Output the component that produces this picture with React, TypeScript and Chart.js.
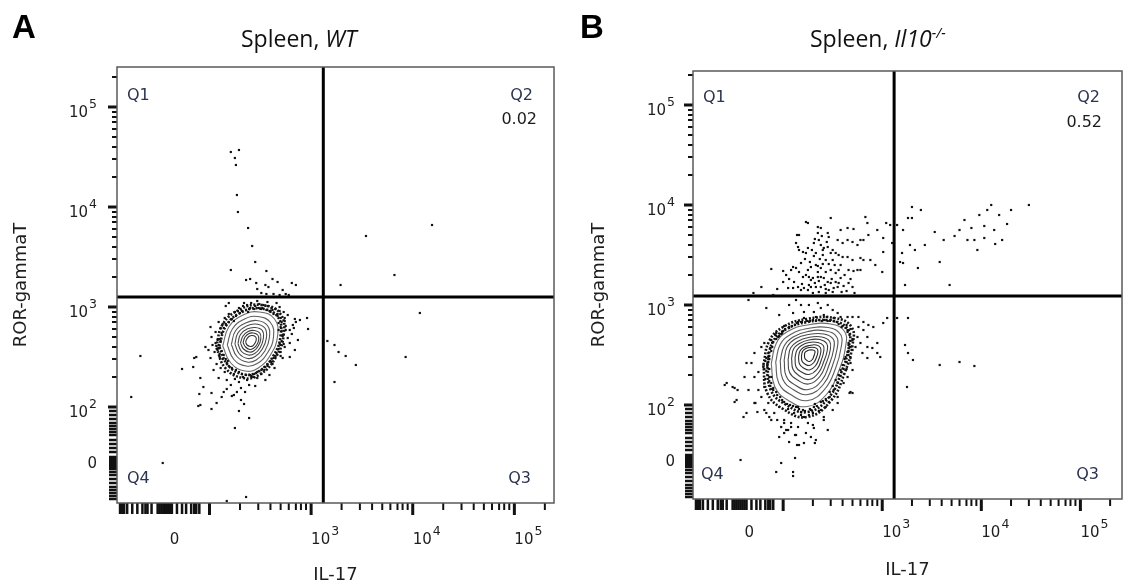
import React, { useEffect, useRef } from "react";
import { Chart, registerables } from "chart.js";

Chart.register(...registerables);
Chart.defaults.font.family = "'DejaVu Sans', sans-serif";

type Pt = [number, number];

// Axis units: biexponential display channels, 100 units per decade
const xTickValues = [161, 300, 400, 500];
const xTickBases = ["0", "10", "10", "10"];
const xTickExps = ["", "3", "4", "5"];
const yTickValues = [149, 200, 300, 400, 500];
const yTickBases = ["0", "10", "10", "10", "10"];
const yTickExps = ["", "2", "3", "4", "5"];
const majorTickValues = [200, 300, 400, 500];
const minorTickValues = [230, 248, 260, 270, 278, 285, 290, 295, 330, 348, 360, 370, 378, 385, 390, 395, 430, 448, 460, 470, 478, 485, 490, 495, 530];
const xLowTickValues = [112, 114, 116, 119, 124, 129, 134, 137, 139, 143, 149, 151, 153, 155, 157, 159, 161, 163, 168, 173, 177, 182, 185, 187, 190];
const yLowTickValues = [108, 111, 114, 117, 120, 124, 128, 132, 135, 138, 140, 142, 144, 146, 148, 150, 155, 159, 163, 167, 172, 175, 178, 181, 184, 188, 192, 196];

// WT panel
const wtGate: Pt = [312, 310];
const wtQ2 = "0.02";
const wtDots: Pt[] = [
  [221, 455], [229, 457], [225, 449], [226, 442], [227, 412], [228, 395], [238, 379], [242, 361], [245, 345], [221, 337], [256, 336],
  [354, 371], [382, 332], [419, 382], [329, 322], [407, 294], [393, 250], [316, 266], [323, 262], [327, 255], [334, 251], [344, 242], [323, 225],
  [132, 251], [123, 210], [154, 144], [225, 179], [217, 106], [236, 110], [189, 201], [202, 198], [190, 213], [194, 220], [229, 196], [234, 203], [239, 189],
  [236, 327], [240, 328], [246, 324], [255, 322], [258, 320], [262, 328], [267, 325], [281, 324], [285, 322], [251, 314], [256, 313], [263, 313], [269, 312], [275, 313], [278, 312], [247, 318], [272, 317],
  [219, 304], [216, 301], [234, 304], [247, 306], [257, 305], [266, 304], [269, 300], [284, 288], [289, 287], [296, 289], [282, 282], [297, 278], [287, 267], [284, 257], [279, 250], [272, 249],
  [201, 280], [196, 260], [187, 250], [185, 249], [173, 238], [184, 240], [191, 229], [202, 214], [212, 210], [222, 211], [231, 207], [191, 202], [207, 204],
  [225, 295], [229, 299], [233, 301], [237, 302], [241, 304], [245, 301], [249, 303], [253, 302], [257, 301], [261, 299], [265, 298], [269, 296], [273, 295], [251, 298], [259, 296], [267, 293], [239, 298], [232, 296], [277, 292], [274, 289],
  [271, 285], [275, 281], [279, 277], [272, 271], [277, 269], [281, 273], [269, 263], [274, 260], [270, 255], [265, 251], [279, 264], [283, 279], [268, 277], [285, 285],
  [261, 245], [257, 241], [254, 237], [264, 239], [251, 233], [259, 232], [247, 229], [255, 227],
  [241, 231], [237, 227], [233, 230], [229, 225], [225, 228], [239, 222], [245, 221], [231, 219], [221, 222], [235, 215], [227, 215], [217, 218], [224, 212], [214, 215],
  [215, 235], [211, 239], [207, 243], [210, 250], [205, 255], [209, 259], [203, 262], [208, 267], [202, 270], [206, 275], [211, 279], [209, 285], [215, 289], [219, 293], [213, 283], [201, 249], [204, 237], [209, 229], [217, 227], [199, 257],
  [209, 262], [210, 268], [212, 274], [214, 279], [208, 257], [211, 266], [216, 283], [206, 264],
  [219, 285], [222, 288], [226, 291], [230, 294], [224, 286], [228, 296],
  [236, 297], [240, 299], [244, 298], [248, 299], [252, 299], [238, 295],
  [256, 297], [260, 295], [263, 293], [267, 291], [262, 297], [270, 289],
  [268, 284], [270, 280], [271, 276], [272, 272], [274, 286], [275, 277],
  [271, 266], [270, 262], [268, 258], [266, 254], [273, 263], [270, 251],
  [263, 249], [260, 246], [257, 243], [254, 240], [251, 237], [262, 243],
  [247, 235], [244, 233], [240, 232], [236, 232], [232, 233], [243, 230],
  [229, 235], [226, 237], [222, 239], [219, 241], [217, 244], [224, 233],
  [216, 248], [214, 252], [212, 256], [218, 246], [210, 253], [213, 248],
];
// outermost (lowest-density) levels, drawn as dense dark bands
const wtBands: Pt[][] = [
  [[209.5, 260.5], [216.5, 281.5], [232, 295], [250, 298.5], [267, 290.5], [270, 271.5], [262.5, 250.5], [249, 236], [234.5, 232.5], [218.5, 241.5]],
  [[206.5, 260], [213.5, 283.5], [231, 298], [251, 302], [269.5, 293.5], [273, 272], [264.5, 248.5], [249.5, 232.5], [233.5, 229], [216, 238.5]],
];
const wtContours: Pt[][] = [
  [[213, 261], [219, 280], [233, 292], [249, 295], [264, 288], [267, 271], [260, 252], [248, 239], [235, 236], [221, 244]],
  [[217.5, 262], [222.5, 278], [234.5, 288], [247.5, 290.5], [260, 284.5], [263, 270], [257, 254], [247, 243.5], [236, 241], [224, 247.5]],
  [[221.5, 262.5], [225.5, 276], [235.5, 284], [246.5, 286.5], [257, 281.5], [259, 269.5], [254.5, 256], [246, 247], [237, 245], [227, 250.5]],
  [[225, 263], [228, 274], [236.5, 281], [245.5, 283], [254.5, 279], [256, 269], [252, 258], [245, 250.5], [237.5, 248.5], [229.5, 253]],
  [[228, 263.5], [230.5, 272.5], [237, 278], [245, 279.5], [252, 276.5], [253, 268.5], [250, 259.5], [244.5, 253.5], [238, 252], [231.5, 255.5]],
  [[230.5, 264], [233, 271], [238, 275.5], [244, 276.5], [249.5, 274], [250.5, 268], [248, 261], [243.5, 256], [239, 255], [233.5, 258]],
  [[233, 264.5], [235, 270], [239, 273.5], [243, 274], [247.5, 272], [248.5, 267.5], [246.5, 262], [243, 258.5], [239.5, 257.5], [235.5, 260]],
  [[235.5, 265], [237, 268.5], [239.5, 271], [242.5, 271.5], [245.5, 270], [246, 267], [244.5, 263.5], [242.5, 261], [240, 260.5], [237, 262]],
];

// Il10-/- panel
const koGate: Pt = [312, 309];
const koQ2 = "0.52";
const koDots: Pt[] = [
  [223, 383], [225, 382], [235, 378], [238, 377], [248, 387], [258, 375], [265, 377], [271, 376], [283, 388], [285, 382], [295, 375], [304, 382], [308, 380], [315, 380], [330, 398], [326, 387],
  [214, 370], [216, 370], [235, 372], [245, 372], [246, 368], [255, 365], [260, 362], [265, 365], [270, 363], [275, 360], [278, 365], [281, 365], [286, 370], [301, 367], [310, 362],
  [213, 362], [215, 358], [216, 355], [220, 353], [223, 352], [225, 357], [231, 362], [236, 365], [238, 360], [240, 355], [241, 357], [245, 358], [248, 352], [250, 355], [253, 352], [256, 350], [260, 348], [265, 348], [270, 345], [278, 347], [281, 345], [288, 345], [293, 340], [300, 333], [301, 353], [320, 352], [321, 342], [333, 355], [328, 360],
  [188, 336], [200, 334], [208, 335], [213, 337], [210, 338], [216, 333], [225, 335], [228, 338], [233, 340], [235, 339], [238, 337], [243, 333], [248, 335], [253, 332], [256, 335], [258, 340], [266, 335], [271, 334], [275, 335], [278, 335],
  [220, 328], [223, 330], [226, 328], [230, 327], [235, 328], [238, 328], [241, 327], [245, 323], [248, 322], [253, 323], [258, 327],
  [200, 323], [205, 317], [210, 317], [215, 318], [218, 315], [221, 317], [225, 315], [228, 318], [233, 318], [238, 318], [243, 316], [246, 315], [251, 317], [255, 318],
  [218, 342], [222, 346], [227, 343], [231, 349], [229, 355], [233, 352], [237, 346], [240, 350], [243, 345], [246, 341], [250, 345], [252, 340], [235, 333], [240, 341], [228, 325], [232, 322], [236, 324], [242, 320], [249, 326], [256, 322], [261, 319], [266, 322], [270, 318], [262, 330], [268, 326], [230, 312], [236, 313], [243, 312], [250, 313], [259, 313], [264, 314], [272, 312], [206, 326], [211, 323], [203, 330], [219, 321], [226, 320], [232, 366], [239, 369], [244, 363],
  [170, 312], [178, 318], [165, 305], [190, 310], [194, 316],
  [318, 343], [321, 375], [330, 387], [339, 395], [343, 360], [353, 373], [362, 365], [373, 369], [383, 385], [386, 365], [393, 365], [398, 390], [403, 379], [406, 395], [410, 400], [413, 375], [418, 390], [421, 365], [426, 381], [448, 400], [358, 343], [368, 320], [378, 375], [390, 377], [403, 367], [414, 361], [323, 320], [336, 337], [430, 395], [396, 355],
  [315, 287], [326, 287], [323, 260], [326, 252], [331, 245], [325, 218], [358, 240], [378, 243], [393, 239],
  [183, 297], [196, 290], [206, 300], [210, 292], [213, 305], [218, 300], [221, 293], [226, 300], [231, 293], [235, 302], [238, 297], [241, 290], [245, 300], [250, 295], [251, 287], [255, 292], [258, 288], [265, 288], [270, 288], [276, 288], [281, 283], [286, 280], [291, 278], [301, 282], [305, 287], [276, 278], [281, 275], [275, 268], [270, 265], [278, 262], [285, 258], [290, 257], [295, 252], [298, 248], [285, 247], [280, 252], [273, 258], [266, 260], [263, 248], [268, 242], [270, 235], [265, 228], [261, 222], [268, 213], [255, 208], [255, 202], [250, 195], [238, 195], [231, 198], [221, 188], [218, 193], [211, 192], [208, 182], [215, 178], [225, 182], [231, 177], [228, 168], [221, 162], [213, 170], [201, 185], [198, 178], [191, 192], [185, 202], [178, 208], [175, 215], [171, 228], [168, 242], [171, 252], [178, 258], [181, 262], [188, 265], [193, 272], [185, 248], [180, 238], [175, 233], [163, 242], [161, 228], [151, 217], [143, 222], [165, 215], [153, 205], [160, 188], [171, 202], [181, 195], [188, 185], [196, 168], [203, 175], [206, 163], [216, 160], [233, 165], [241, 185], [245, 175], [215, 198], [196, 198], [181, 218], [188, 228], [268, 247], [285, 268], [295, 262], [270, 212],
  [184, 240], [186, 246], [185, 252], [187, 257], [189, 262], [183, 234], [186, 228], [188, 222], [190, 215], [186, 236], [182, 244],
  [195, 268], [200, 274], [206, 277], [212, 280], [218, 283], [224, 284], [230, 285], [236, 285], [242, 285], [248, 285], [254, 283], [260, 279], [265, 275], [198, 271], [215, 283],
  [267, 270], [268, 264], [268, 258], [266, 250], [264, 243], [261, 236], [258, 229], [255, 222], [251, 215], [247, 208], [266, 254], [270, 266],
  [240, 204], [234, 199], [228, 195], [222, 194], [216, 196], [210, 199], [204, 201], [199, 205], [194, 210], [190, 217], [236, 194], [226, 190], [243, 198],
  [184, 238], [185, 243], [186, 249], [188, 254], [189, 258], [190, 263], [184, 230], [186, 224], [187, 219], [183, 247], [181, 236], [182, 226],
  [193, 266], [196, 269], [199, 272], [202, 276], [206, 278], [209, 279], [192, 270], [201, 279],
  [214, 282], [219, 283], [227, 284], [233, 284], [239, 284], [245, 284], [251, 284], [221, 287], [233, 288], [244, 288],
  [256, 281], [259, 278], [263, 277], [265, 273], [264, 280], [268, 276],
  [266, 262], [267, 258], [265, 253], [262, 246], [260, 240], [258, 235], [256, 230], [253, 225], [250, 219], [247, 213], [270, 255], [264, 236],
  [243, 206], [238, 203], [232, 201], [227, 196], [220, 195], [213, 198], [207, 200], [201, 203], [197, 208], [193, 213], [189, 216], [230, 192], [218, 190], [205, 196],
  [141, 220], [149, 218], [154, 215], [151, 203], [163, 192], [172, 202], [174, 193], [183, 192], [186, 188], [194, 185], [201, 182], [205, 175], [201, 172], [214, 160], [232, 162], [212, 170], [223, 172], [208, 178], [230, 180], [241, 188], [246, 203], [267, 212], [157, 145], [198, 142], [212, 147], [193, 133], [210, 133], [210, 129],
];
const koBands: Pt[][] = [
  [[184, 241], [189.5, 263], [202.5, 275.5], [224.5, 283], [250, 284], [265.5, 275.5], [266.5, 259], [259, 233.5], [246.5, 208], [224.5, 193], [202.5, 200.5], [187.5, 215]],
  [[180, 240], [186, 264], [200, 278], [224, 286], [252, 287], [269, 278], [270, 260], [262, 232], [248, 204], [224, 188], [200, 196], [184, 212]],
];
const koContours: Pt[][] = [
  [[188, 241.5], [193, 261.5], [204.5, 273.5], [224.5, 280], [248, 281], [262, 273.5], [263, 258.5], [256.5, 235], [244.5, 211.5], [224.5, 198.5], [204.5, 205], [191.5, 218.5]],
  [[192.5, 243], [197, 260.5], [207.5, 270.5], [225, 276.5], [245.5, 277.5], [258, 270.5], [258.5, 257.5], [253, 237], [242.5, 216.5], [225, 204.5], [207.5, 210.5], [195.5, 222]],
  [[197, 244], [201, 259], [210, 268], [225, 273.5], [243, 274], [254, 268], [254.5, 256.5], [249.5, 238.5], [240.5, 220.5], [225, 210.5], [210, 215.5], [199.5, 226]],
  [[201, 245], [204, 258], [212, 266], [225.5, 270.5], [241, 271], [250.5, 266], [251, 256], [246.5, 240.5], [239, 224.5], [225.5, 215.5], [212, 220], [203, 229]],
  [[205, 245.5], [207.5, 257], [214.5, 263.5], [225.5, 267.5], [239, 268], [247, 263.5], [247.5, 255], [243.5, 242], [237, 228.5], [225.5, 221], [214.5, 225], [206.5, 232.5]],
  [[208.5, 246.5], [210.5, 256], [216.5, 261.5], [226, 265], [237, 265.5], [244, 261.5], [244.5, 254.5], [241, 243.5], [235.5, 232], [226, 225.5], [216.5, 229], [210, 235.5]],
  [[212, 247.5], [214, 255], [218.5, 259.5], [226, 262.5], [235, 262.5], [240.5, 259.5], [241, 254], [238.5, 245], [234, 235.5], [226, 230.5], [218.5, 233], [213, 238]],
  [[215.5, 248], [217, 254], [220.5, 257.5], [226.5, 259.5], [233.5, 260], [237.5, 257.5], [238, 253], [236, 246], [232.5, 239], [226.5, 235], [220.5, 237], [216.5, 241]],
  [[218.5, 249], [219.5, 253.5], [222, 256], [226.5, 257.5], [231.5, 257.5], [234.5, 256], [235, 252.5], [233.5, 247.5], [231, 242.5], [226.5, 239.5], [222, 241], [219, 244]],
  [[221.5, 249.5], [222, 252.5], [224, 254], [226.5, 255], [230, 255], [232, 254], [232, 252], [231, 249], [229.5, 245.5], [226.5, 243.5], [224, 244.5], [222, 246.5]],
];

type PanelCfg = {
  dots: Pt[];
  bands: Pt[][];
  contours: Pt[][];
  gate: Pt;
  q2: string;
  xRange: [number, number];
  yRange: [number, number];
  padTop: number;
  padRight: number;
  yWidth: number;
  xHeight: number;
  xLabelBase: number;
  yLabelPad: number;
  xTitlePad: number;
  yTitlePad: number;
  q: { q1y: number; q1x: number; q2x: number; vY: number; vX: number; q4x: number; q4y: number; q3x: number };
};

const BASE_FONT = "15px 'DejaVu Sans'";
const EXP_FONT = "12.5px 'DejaVu Sans'";

function drawPowLabel(ctx: any, base: string, exp: string, x: number, baseline: number, alignRight: boolean) {
  ctx.font = BASE_FONT;
  const w1 = ctx.measureText(base).width;
  ctx.font = EXP_FONT;
  const w2 = exp ? ctx.measureText(exp).width + 1 : 0;
  const x0 = alignRight ? x - w1 - w2 : x;
  ctx.font = BASE_FONT;
  ctx.fillText(base, x0, baseline);
  if (exp) {
    ctx.font = EXP_FONT;
    ctx.fillText(exp, x0 + w1 + 1, baseline - 9);
  }
}

const flowOverlay = {
  id: "flowOverlay",
  afterDatasetsDraw(chart: any, _args: any, opts: any) {
    const { ctx, chartArea: a, scales } = chart;
    const xs = scales.x;
    const ys = scales.y;
    ctx.save();
    ctx.strokeStyle = "#111";
    const xTick = (v: number, len: number, w: number) => {
      const p = xs.getPixelForValue(v);
      ctx.lineWidth = w;
      ctx.beginPath();
      ctx.moveTo(p, a.bottom);
      ctx.lineTo(p, a.bottom + len);
      ctx.stroke();
    };
    const yTick = (v: number, len: number, w: number) => {
      const p = ys.getPixelForValue(v);
      ctx.lineWidth = w;
      ctx.beginPath();
      ctx.moveTo(a.left, p);
      ctx.lineTo(a.left - len, p);
      ctx.stroke();
    };
    xLowTickValues.forEach((v) => xTick(v, 11, 2.5));
    minorTickValues.forEach((v) => xTick(v, 7, 2));
    majorTickValues.forEach((v) => xTick(v, 12, 3));
    yLowTickValues.forEach((v) => yTick(v, 8, 2.5));
    minorTickValues.forEach((v) => yTick(v, 5, 2));
    majorTickValues.forEach((v) => yTick(v, 9, 3));

    ctx.fillStyle = "#1e1e1e";
    ctx.textAlign = "left";
    ctx.textBaseline = "alphabetic";
    xs.ticks.forEach((t: any, i: number) => {
      drawPowLabel(ctx, xTickBases[i], xTickExps[i], xs.getPixelForValue(t.value), a.bottom + opts.xLabelBase, false);
    });
    ys.ticks.forEach((t: any, i: number) => {
      drawPowLabel(ctx, yTickBases[i], yTickExps[i], a.left - opts.yLabelPad, ys.getPixelForValue(t.value) + 10, true);
    });

    ctx.strokeStyle = "#5a5a5a";
    ctx.lineWidth = 1.5;
    ctx.strokeRect(a.left, a.top, a.right - a.left, a.bottom - a.top);

    const q = opts.q;
    ctx.font = "16px 'DejaVu Sans'";
    ctx.fillStyle = "#2b3450";
    ctx.textAlign = "left";
    ctx.fillText("Q1", a.left + q.q1x, a.top + q.q1y);
    ctx.fillText("Q4", a.left + q.q4x, a.bottom - q.q4y);
    ctx.textAlign = "right";
    ctx.fillText("Q2", a.right - q.q2x, a.top + q.q1y);
    ctx.fillText("Q3", a.right - q.q3x, a.bottom - q.q4y);
    ctx.fillStyle = "#1c1c1c";
    ctx.fillText(opts.q2, a.right - q.vX, a.top + q.vY);
    ctx.restore();
  },
};

const contourColors = ["#6a6a6a", "#5e5e5e", "#555555", "#4d4d4d", "#454545", "#3e3e3e", "#373737", "#303030", "#2a2a2a", "#242424"];

function closedLine(c: Pt[]) {
  return [...c, c[0]].map(([x, y]) => ({ x, y }));
}

function makeConfig(p: PanelCfg): any {
  const datasets: any[] = [];
  datasets.push({
    type: "scatter",
    data: p.dots.map(([x, y]) => ({ x, y })),
    pointStyle: "rect",
    pointRadius: 1.55,
    backgroundColor: "#111",
    borderWidth: 0,
  });
  p.bands.forEach((c) => {
    datasets.push({
      type: "line",
      data: closedLine(c),
      borderColor: "#141414",
      borderWidth: 2.6,
      borderDash: [2, 1.6],
      pointRadius: 0,
      tension: 0.45,
      fill: false,
    });
  });
  p.contours.forEach((c, i) => {
    datasets.push({
      type: "line",
      data: closedLine(c),
      borderColor: contourColors[i] || "#222",
      borderWidth: 1.1,
      pointRadius: 0,
      tension: 0.45,
      fill: false,
    });
  });
  datasets.push({
    type: "line",
    data: [{ x: p.gate[0], y: p.yRange[0] }, { x: p.gate[0], y: p.yRange[1] }],
    borderColor: "#000",
    borderWidth: 3,
    pointRadius: 0,
    fill: false,
  });
  datasets.push({
    type: "line",
    data: [{ x: p.xRange[0], y: p.gate[1] }, { x: p.xRange[1], y: p.gate[1] }],
    borderColor: "#000",
    borderWidth: 3,
    pointRadius: 0,
    fill: false,
  });

  return {
    type: "scatter",
    data: { datasets },
    plugins: [flowOverlay],
    options: {
      responsive: false,
      animation: false,
      devicePixelRatio: 1,
      events: [],
      layout: { padding: { left: 0, top: p.padTop, right: p.padRight, bottom: 0 } },
      plugins: {
        legend: { display: false },
        tooltip: { enabled: false },
        title: { display: false },
        flowOverlay: { q: p.q, q2: p.q2, xLabelBase: p.xLabelBase, yLabelPad: p.yLabelPad },
      },
      scales: {
        x: {
          type: "linear",
          position: "bottom",
          min: p.xRange[0],
          max: p.xRange[1],
          grid: { display: false, drawTicks: false },
          border: { display: false },
          afterBuildTicks: (s: any) => {
            s.ticks = xTickValues.map((v) => ({ value: v }));
          },
          afterFit: (s: any) => {
            s.height = p.xHeight;
            s.paddingLeft = 0;
            s.paddingRight = 0;
          },
          ticks: { display: false, autoSkip: false },
          title: {
            display: true,
            text: "IL-17",
            color: "#1e1e1e",
            font: { size: 18 },
            padding: { top: 0, bottom: p.xTitlePad },
          },
        },
        y: {
          type: "linear",
          position: "left",
          min: p.yRange[0],
          max: p.yRange[1],
          grid: { display: false, drawTicks: false },
          border: { display: false },
          afterBuildTicks: (s: any) => {
            s.ticks = yTickValues.map((v) => ({ value: v }));
          },
          afterFit: (s: any) => {
            s.width = p.yWidth;
            s.paddingTop = 0;
            s.paddingBottom = 0;
          },
          ticks: { display: false, autoSkip: false },
          title: {
            display: true,
            text: "ROR-gammaT",
            color: "#1e1e1e",
            font: { size: 18 },
            padding: { top: p.yTitlePad, bottom: 0 },
          },
        },
      },
    },
  };
}

const wtPanel: PanelCfg = {
  dots: wtDots,
  bands: wtBands,
  contours: wtContours,
  gate: wtGate,
  q2: wtQ2,
  xRange: [109, 539],
  yRange: [104, 540],
  padTop: 67,
  padRight: 9,
  yWidth: 117,
  xHeight: 85,
  xLabelBase: 41,
  yLabelPad: 20,
  xTitlePad: 2,
  yTitlePad: 11,
  q: { q1x: 10, q1y: 33, q2x: 21, vX: 17, vY: 57, q4x: 10, q4y: 20, q3x: 23 },
};

const koPanel: PanelCfg = {
  dots: koDots,
  bands: koBands,
  contours: koContours,
  gate: koGate,
  q2: koQ2,
  xRange: [109, 542],
  yRange: [106, 534],
  padTop: 71,
  padRight: 4,
  yWidth: 130,
  xHeight: 89,
  xLabelBase: 38,
  yLabelPad: 18,
  xTitlePad: 7,
  yTitlePad: 26,
  q: { q1x: 10, q1y: 31, q2x: 22, vX: 20, vY: 56, q4x: 8, q4y: 20, q3x: 23 },
};

function FlowPanel({ cfg, left }: { cfg: PanelCfg; left: number }) {
  const ref = useRef<HTMLCanvasElement | null>(null);
  useEffect(() => {
    if (!ref.current) return;
    const chart = new Chart(ref.current, makeConfig(cfg));
    return () => chart.destroy();
  }, [cfg]);
  return (
    <canvas
      ref={ref}
      width={563}
      height={588}
      style={{ position: "absolute", left, top: 0, width: 563, height: 588 }}
    />
  );
}

export default function App() {
  const titleStyle: React.CSSProperties = {
    position: "absolute",
    top: 27,
    font: "23px 'Open Sans', sans-serif",
    lineHeight: "23px",
    whiteSpace: "nowrap",
    color: "#111",
  };
  const letterStyle: React.CSSProperties = {
    position: "absolute",
    top: 10,
    font: "bold 33px 'Liberation Sans', Arial, sans-serif",
    lineHeight: "33px",
    color: "#000",
  };
  return (
    <div style={{ position: "absolute", left: 0, top: 0, width: 1126, height: 588, background: "#fff", overflow: "hidden" }}>
      <FlowPanel cfg={wtPanel} left={0} />
      <FlowPanel cfg={koPanel} left={563} />
      <div style={{ ...letterStyle, left: 12 }}>A</div>
      <div style={{ ...letterStyle, left: 580 }}>B</div>
      <div style={{ ...titleStyle, left: 241 }}>
        Spleen, <i>WT</i>
      </div>
      <div style={{ ...titleStyle, left: 810 }}>
        Spleen, <i>Il10<sup style={{ fontSize: "62%", verticalAlign: "0.6em", lineHeight: 0 }}>-/-</sup></i>
      </div>
    </div>
  );
}
